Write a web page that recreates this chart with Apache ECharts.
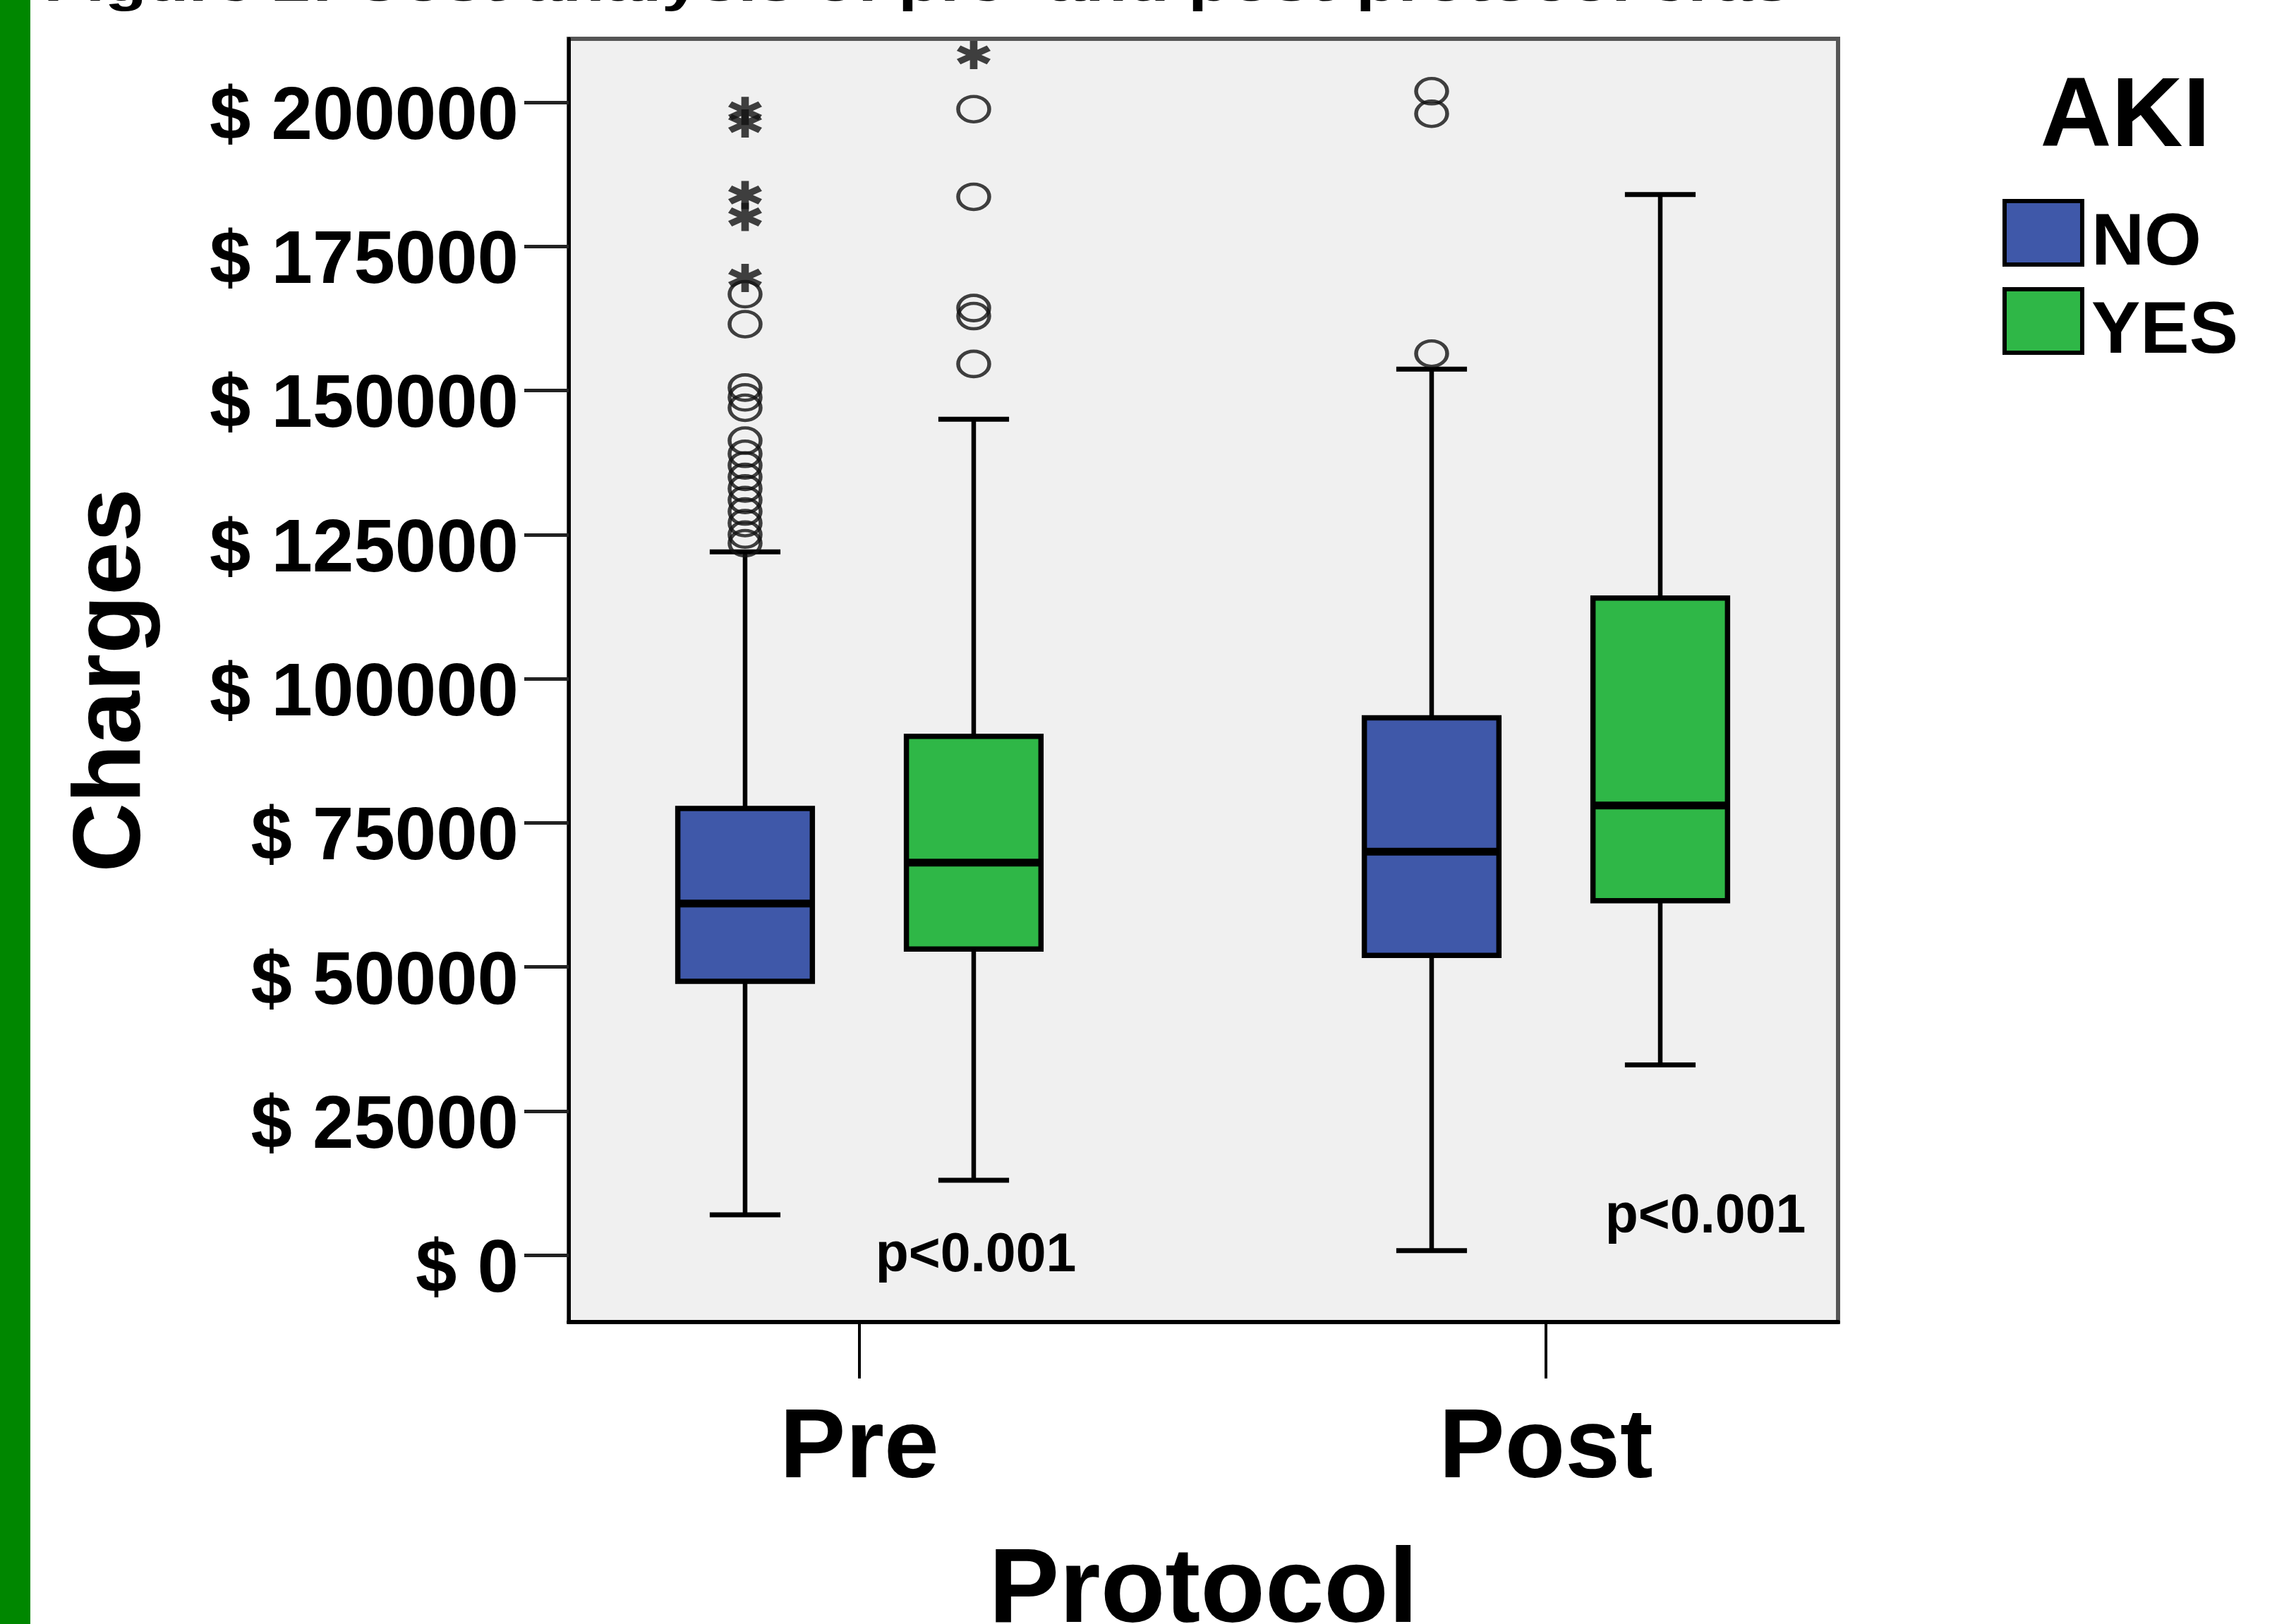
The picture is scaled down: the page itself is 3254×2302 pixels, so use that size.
<!DOCTYPE html>
<html>
<head>
<meta charset="utf-8">
<script src="https://cdn.jsdelivr.net/npm/echarts@6/dist/echarts.min.js"></script>
<style>
html,body{margin:0;padding:0;background:#ffffff;}
#chart{width:3254px;height:2302px;}
</style>
</head>
<body>
<div id="chart"></div>
<script>
// ---------------- data ----------------
const categories = ['Pre', 'Post'];
const groupNames = ['NO', 'YES'];
// box statistics per category: [lower whisker, Q1, median, Q3, upper whisker]
const noStats  = [[7000, 47500, 61000, 77500, 122000], [800, 52000, 70000, 93200, 153700]];
const yesStats = [[13000, 53100, 68100, 90000, 145000], [33000, 61500, 78000, 114000, 184000]];
// outliers (circles) and extreme values (stars) per category
const noOutliers  = [[123500, 125000, 127000, 129000, 131000, 133000, 135000, 137000, 139000, 141300, 147000, 148800, 150500, 161500, 166700], [156400, 198000, 201900]];
const noExtremes  = [[169500, 180100, 183900, 196300, 198500], []];
const yesOutliers = [[154600, 162900, 164300, 183600, 198800], []];
const yesExtremes = [[208200], []];
const yTickValues = [0, 25000, 50000, 75000, 100000, 125000, 150000, 175000, 200000];
const yTickLabels = ['$ 0', '$ 25000', '$ 50000', '$ 75000', '$ 100000', '$ 125000', '$ 150000', '$ 175000', '$ 200000'];
const pLabels = ['p<0.001', 'p<0.001'];
const titleText = 'Figure 2: Cost analysis of pre- and post-protocol eras';
const legendTitle = 'AKI';
const xName = 'Protocol';
const yName = 'Charges';

// ---------------- layout / style ----------------
const FONT = '"Liberation Sans", Arial, Helvetica, sans-serif';
const BLUE = '#3f58a9';
const GREEN = '#2fb747';
const COLORS = [BLUE, GREEN];
const Y_MIN = -11600, Y_MAX = 211000;
const X_MIN = -0.4234, X_MAX = 1.4255;
const OFFSET = 0.1665;
const BOX_W = 0.196, CAP_W = 0.103;
const LEGEND_TOPS = [282, 407];

function boxRenderer(offset, color) {
  return function (params, api) {
    const g = api.value(0) + offset;
    const pMin = api.coord([g, api.value(1)]);
    const pQ1 = api.coord([g, api.value(2)]);
    const pMed = api.coord([g, api.value(3)]);
    const pQ3 = api.coord([g, api.value(4)]);
    const pMax = api.coord([g, api.value(5)]);
    const bw = api.size([BOX_W, 0])[0];
    const cw = api.size([CAP_W, 0])[0];
    const x = pMed[0];
    const lineStyle = {stroke: '#000', lineWidth: 6.5};
    const capStyle = {stroke: '#000', lineWidth: 7};
    return {
      type: 'group',
      children: [
        {type: 'line', shape: {x1: x, y1: pMax[1], x2: x, y2: pQ3[1]}, style: lineStyle},
        {type: 'line', shape: {x1: x, y1: pQ1[1], x2: x, y2: pMin[1]}, style: lineStyle},
        {type: 'line', shape: {x1: x - cw / 2, y1: pMax[1], x2: x + cw / 2, y2: pMax[1]}, style: capStyle},
        {type: 'line', shape: {x1: x - cw / 2, y1: pMin[1], x2: x + cw / 2, y2: pMin[1]}, style: capStyle},
        {type: 'rect', shape: {x: x - bw / 2, y: pQ3[1], width: bw, height: pQ1[1] - pQ3[1]}, style: {fill: color, stroke: '#000', lineWidth: 7.5}},
        {type: 'line', shape: {x1: x - bw / 2, y1: pMed[1], x2: x + bw / 2, y2: pMed[1]}, style: {stroke: '#000', lineWidth: 11}}
      ]
    };
  };
}

const STAR = 'path://M39,0L61,0L61,100L39,100Z M0.5,35.5L11.5,16.5L99.5,64.5L88.5,83.5Z M11.5,83.5L0.5,64.5L88.5,16.5L99.5,35.5Z';

function pointsFrom(lists, offset) {
  const out = [];
  lists.forEach(function (vals, i) { vals.forEach(function (v) { out.push([i + offset, v]); }); });
  return out;
}

function legendFor(i) {
  return {
    orient: 'vertical', left: 2838, top: LEGEND_TOPS[i], padding: 0,
    itemWidth: 110, itemHeight: 90, itemGap: 0, selectedMode: false,
    formatter: '{n|{name}}',
    textStyle: {
      fontFamily: FONT, fontWeight: 'bold', fontSize: 104, color: '#000',
      rich: {n: {fontFamily: FONT, fontWeight: 'bold', fontSize: 104, color: '#000', padding: [32, 0, 0, 8]}}
    },
    data: [{name: groupNames[i], icon: 'rect', itemStyle: {color: COLORS[i], borderColor: '#000', borderWidth: 6}}]
  };
}

const circleStyle = {color: 'rgba(0,0,0,0)', borderColor: '#111', borderWidth: 5};
const starStyle = {color: '#111'};

const chart = echarts.init(document.getElementById('chart'), null, {renderer: 'canvas'});
const option = {
  animation: false,
  backgroundColor: '#ffffff',
  grid: {
    left: 806, right: 649, top: 55, bottom: 428,
    show: true, backgroundColor: '#f0f0f0', borderColor: '#555555', borderWidth: 6,
    containLabel: false, outerBoundsMode: 'none'
  },
  legend: [legendFor(0), legendFor(1)],
  xAxis: {
    type: 'value', min: X_MIN, max: X_MAX,
    name: xName, nameLocation: 'middle', nameGap: 309,
    nameTextStyle: {fontFamily: FONT, fontWeight: 'bold', fontSize: 150, color: '#000'},
    axisLine: {show: true, onZero: false, lineStyle: {color: '#000', width: 6}},
    axisTick: {show: true, length: 80, customValues: [0, 1], lineStyle: {color: '#000', width: 4}},
    axisLabel: {
      show: true, margin: 111, customValues: [0, 1],
      fontFamily: FONT, fontWeight: 'bold', fontSize: 140, color: '#000',
      formatter: function (v) { return categories[Math.round(v)]; }
    },
    splitLine: {show: false}
  },
  yAxis: {
    type: 'value', min: Y_MIN, max: Y_MAX,
    name: yName, nameLocation: 'middle', nameGap: 578,
    nameTextStyle: {fontFamily: FONT, fontWeight: 'bold', fontSize: 136, color: '#000'},
    axisLine: {show: true, onZero: false, lineStyle: {color: '#000', width: 5}},
    axisTick: {show: true, length: 63, customValues: yTickValues, lineStyle: {color: '#222', width: 5}},
    axisLabel: {
      show: true, margin: 71, customValues: yTickValues,
      fontFamily: FONT, fontWeight: 'bold', fontSize: 105, color: '#000',
      verticalAlign: 'top', lineHeight: 46,
      formatter: function (v) { const i = yTickValues.indexOf(v); return i >= 0 ? yTickLabels[i] : ''; }
    },
    splitLine: {show: false}
  },
  series: [
    {
      name: groupNames[0], type: 'custom', color: BLUE, itemStyle: {color: BLUE},
      renderItem: boxRenderer(-OFFSET, BLUE),
      encode: {x: 0, y: [1, 2, 3, 4, 5]},
      data: noStats.map(function (s, i) { return [i].concat(s); }), z: 2
    },
    {
      name: groupNames[1], type: 'custom', color: GREEN, itemStyle: {color: GREEN},
      renderItem: boxRenderer(OFFSET, GREEN),
      encode: {x: 0, y: [1, 2, 3, 4, 5]},
      data: yesStats.map(function (s, i) { return [i].concat(s); }), z: 2
    },
    {name: 'NO outliers', type: 'scatter', symbol: 'circle', symbolSize: [44, 36], itemStyle: circleStyle, data: pointsFrom(noOutliers, -OFFSET), z: 3, clip: false},
    {name: 'NO extremes', type: 'scatter', symbol: STAR, symbolSize: [48, 40], itemStyle: starStyle, data: pointsFrom(noExtremes, -OFFSET), z: 3, clip: false},
    {name: 'YES outliers', type: 'scatter', symbol: 'circle', symbolSize: [44, 36], itemStyle: circleStyle, data: pointsFrom(yesOutliers, OFFSET), z: 3, clip: false},
    {name: 'YES extremes', type: 'scatter', symbol: STAR, symbolSize: [48, 40], itemStyle: starStyle, data: pointsFrom(yesExtremes, OFFSET), z: 3, clip: false}
  ],
  graphic: [
    {type: 'rect', left: 0, top: 0, shape: {x: 0, y: 0, width: 43, height: 2302}, style: {fill: '#008700'}, z: 10},
    {type: 'text', x: 62, y: -18, scaleX: 1.39, z: 10,
      style: {text: titleText, font: 'bold 70px ' + FONT, fill: '#000', textAlign: 'left', align: 'left', textVerticalAlign: 'middle', verticalAlign: 'middle'}},
    {type: 'text', x: 3012, y: 168, z: 10,
      style: {text: legendTitle, font: 'bold 140px ' + FONT, fill: '#000', textAlign: 'center', align: 'center', textVerticalAlign: 'middle', verticalAlign: 'middle'}},
    {type: 'text', x: 1383, y: 1781, z: 10,
      style: {text: pLabels[0], font: 'bold 77px ' + FONT, fill: '#000', textAlign: 'center', align: 'center', textVerticalAlign: 'middle', verticalAlign: 'middle'}},
    {type: 'text', x: 2417, y: 1726, z: 10,
      style: {text: pLabels[1], font: 'bold 77px ' + FONT, fill: '#000', textAlign: 'center', align: 'center', textVerticalAlign: 'middle', verticalAlign: 'middle'}}
  ]
};
chart.setOption(option);
</script>
</body>
</html>
